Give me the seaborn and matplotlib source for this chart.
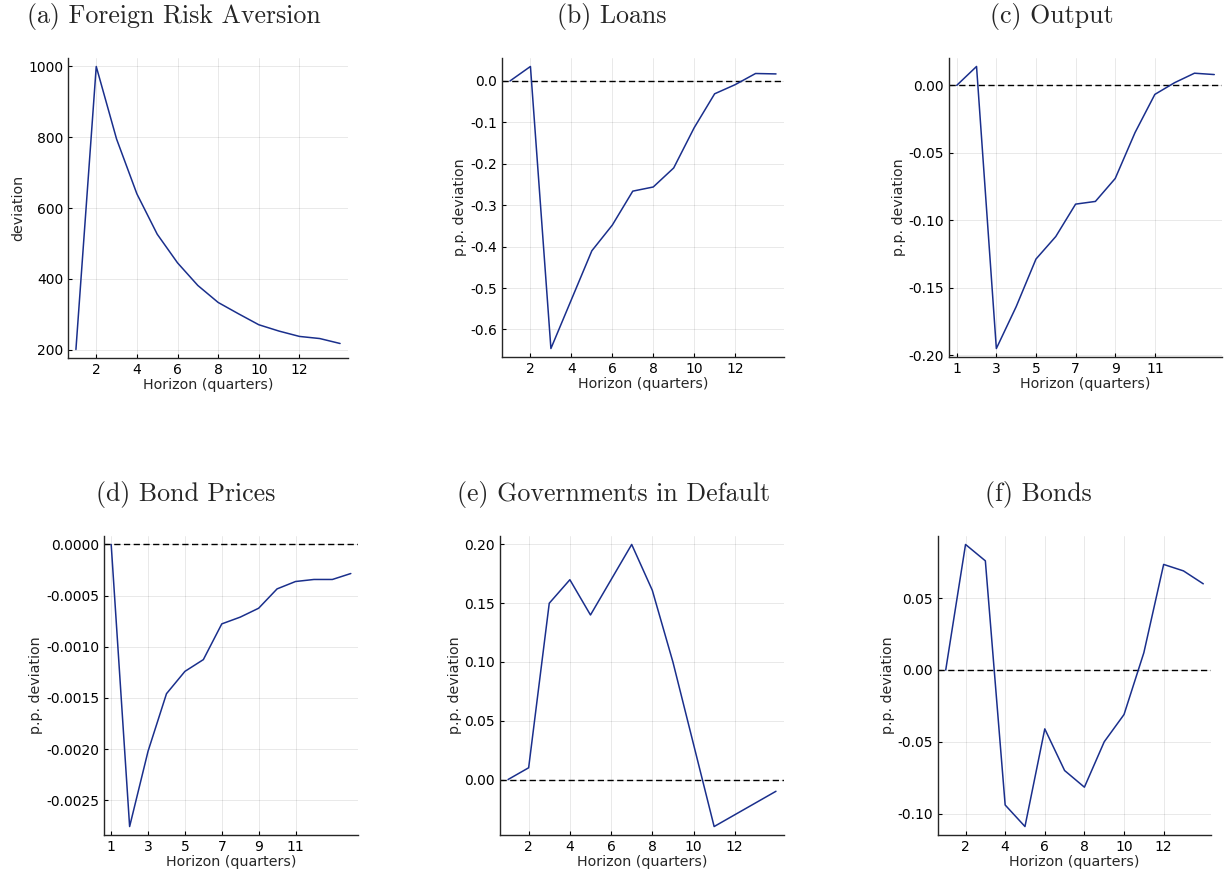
import numpy as np
import pandas as pd
import matplotlib
matplotlib.use("Agg")
import matplotlib.pyplot as plt
import seaborn as sns

# impulse responses, horizon 1..14 quarters
horizon = list(range(1, 15))

risk_aversion = [200, 1000, 795, 640, 526, 445, 381, 333, 301, 270, 252, 237, 231, 217]
loans = [0.0, 0.035, -0.646, -0.528, -0.41, -0.348, -0.266, -0.256, -0.21, -0.113,
         -0.031, -0.009, 0.018, 0.017]
output = [0.0, 0.014, -0.195, -0.164, -0.1287, -0.112, -0.088, -0.086, -0.069, -0.035,
          -0.0067, 0.002, 0.009, 0.008]
bond_prices = [0.0, -0.002756, -0.00202, -0.001458, -0.00124, -0.001125, -0.000776,
               -0.00071, -0.000623, -0.000434, -0.000362, -0.000342, -0.000342, -0.000284]
in_default = [0.0, 0.01, 0.15, 0.17, 0.14, 0.17, 0.20, 0.161, 0.10, 0.03,
              -0.04, -0.03, -0.02, -0.01]
bonds = [0.0, 0.0874, 0.076, -0.094, -0.109, -0.041, -0.070, -0.0816, -0.050, -0.031,
         0.012, 0.0735, 0.069, 0.060]

titles = ["(a) Foreign Risk Aversion", "(b) Loans", "(c) Output",
          "(d) Bond Prices", "(e) Governments in Default", "(f) Bonds"]
ylabels = ["deviation"] + ["p.p. deviation"] * 5
xticks = [[2, 4, 6, 8, 10, 12], [2, 4, 6, 8, 10, 12], [1, 3, 5, 7, 9, 11],
          [1, 3, 5, 7, 9, 11], [2, 4, 6, 8, 10, 12], [2, 4, 6, 8, 10, 12]]
yticks = [[200, 400, 600, 800, 1000],
          [0.0, -0.1, -0.2, -0.3, -0.4, -0.5, -0.6],
          [0.0, -0.05, -0.10, -0.15, -0.20],
          [0.0, -0.0005, -0.0010, -0.0015, -0.0020, -0.0025],
          [0.0, 0.05, 0.10, 0.15, 0.20],
          [-0.10, -0.05, 0.0, 0.05]]
yfmt = ["%d", "%.1f", "%.2f", "%.4f", "%.2f", "%.2f"]
series = [risk_aversion, loans, output, bond_prices, in_default, bonds]
zero_line = [False, True, True, True, True, True]

# axes boxes in pixels: left, right, top, bottom ; title centre
W, H = 1225, 880
boxes = [(68, 348, 58, 358), (502, 784, 58, 357), (949, 1222, 58, 357),
         (104, 358, 536, 835), (500, 784, 536, 835), (938, 1211, 536, 835)]
title_x = [174, 612, 1052, 186, 614, 1038]
title_y = [17, 17, 17, 494, 494, 494]

sns.set_style("ticks")
plt.rcParams["font.family"] = ["DejaVu Sans"]
plt.rcParams["axes.unicode_minus"] = True

LINE = "#1a2f8c"

fig = plt.figure(figsize=(12.25, 8.8), dpi=100)

for i in range(6):
    l, r, t, b = boxes[i]
    ax = fig.add_axes([l / W, 1 - b / H, (r - l) / W, (b - t) / H])
    df = pd.DataFrame({"h": horizon, "v": series[i]})
    sns.lineplot(data=df, x="h", y="v", ax=ax, color=LINE, linewidth=1.1)
    if zero_line[i]:
        ax.axhline(0, color="black", linewidth=1.0, linestyle=(0, (4.5, 2.5)), zorder=1)

    # julia-style 3% padding around the data
    vals = np.array(series[i])
    lo, hi = vals.min(), vals.max()
    pad = 0.03 * (hi - lo)
    ax.set_ylim(lo - pad, hi + pad)
    ax.set_xlim(1 - 0.03 * 13, 14 + 0.03 * 13)

    ax.set_xticks(xticks[i])
    ax.set_yticks(yticks[i])
    ax.yaxis.set_major_formatter(matplotlib.ticker.FormatStrFormatter(yfmt[i]))
    ax.tick_params(direction="in", length=3, width=0.8, labelsize=10, colors="black")
    ax.grid(True, color="black", alpha=0.1, linewidth=0.6)
    for s in ["top", "right"]:
        ax.spines[s].set_visible(False)
    for s in ["left", "bottom"]:
        ax.spines[s].set_linewidth(1.0)
    ax.set_xlabel("Horizon (quarters)", fontsize=10.3, labelpad=1)
    ax.set_ylabel(ylabels[i], fontsize=10.3, labelpad=2)

    fig.text(title_x[i] / W, 1 - title_y[i] / H, titles[i], ha="center", va="center",
             fontsize=18.6, family="cmr10")

fig.savefig("out.png", dpi=100)
